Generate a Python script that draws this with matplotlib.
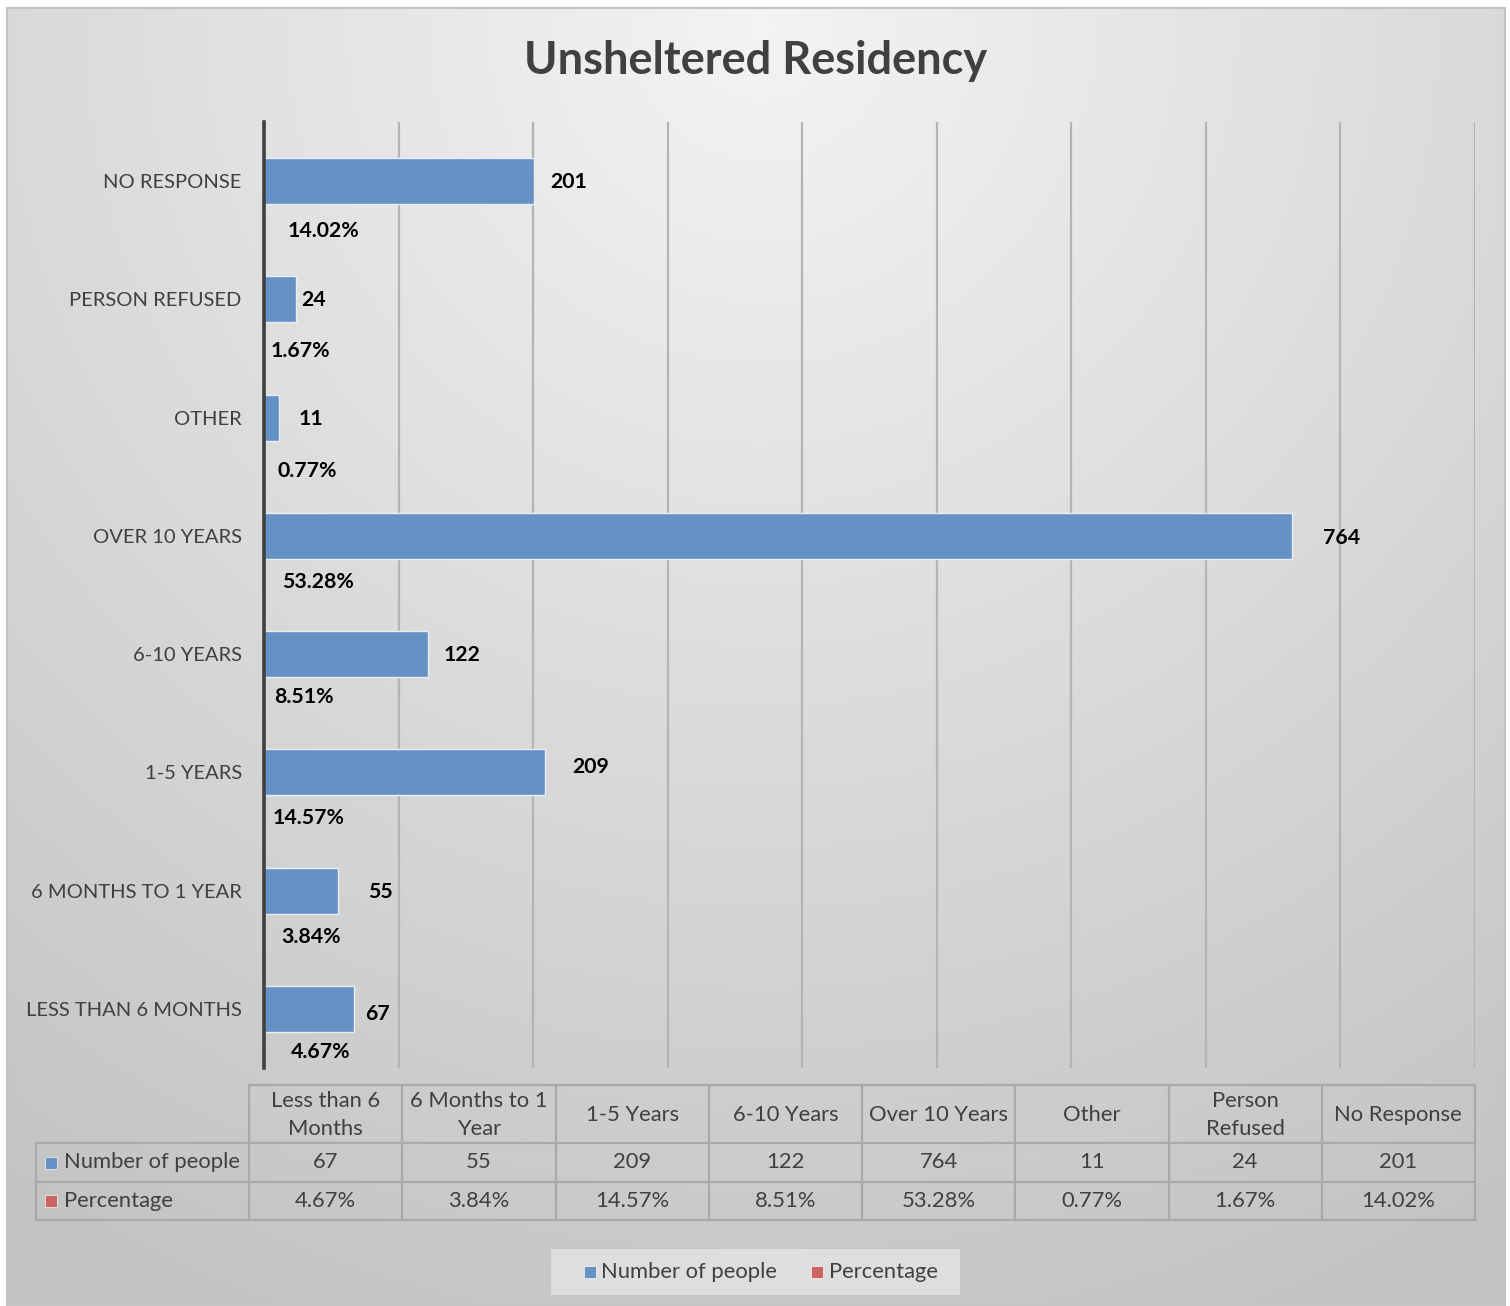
import numpy as np
import matplotlib
matplotlib.use("Agg")
import matplotlib.pyplot as plt
from matplotlib.patches import Rectangle

plt.rcParams['font.family'] = ['Lato', 'DejaVu Sans']

# ---------------- data ----------------
title = "Unsheltered Residency"
categories = ["Less than 6\nMonths", "6 Months to 1\nYear", "1-5 Years", "6-10 Years",
              "Over 10 Years", "Other", "Person\nRefused", "No Response"]
axis_labels = ["LESS THAN 6 MONTHS", "6 MONTHS TO 1 YEAR", "1-5 YEARS", "6-10 YEARS",
               "OVER 10 YEARS", "OTHER", "PERSON REFUSED", "NO RESPONSE"]
counts = [67, 55, 209, 122, 764, 11, 24, 201]
pct_labels = ["4.67%", "3.84%", "14.57%", "8.51%", "53.28%", "0.77%", "1.67%", "14.02%"]
series_names = ["Number of people", "Percentage"]
x_max = 900
x_step = 100

# label nudges (pixels, +dy = downward) - manual placement as in the reference
count_dx = [11, 30, 27, 15, 31, 20, 5, 16]
count_dy = [5, 1, -5, 1, 2, 1, 1, 1]
pct_dx = [27, 17, 9, 10, 18, 14, 7, 24]
pct_dy = [43, 46, 46, 43, 46, 53, 52, 50]

BLUE = "#6691c5"
RED = "#cd6462"
TXT = "#404040"

W, H = 1510, 1306
fig = plt.figure(figsize=(W / 100, H / 100), dpi=100)
fig.patch.set_facecolor("white")

# ---------------- background (gradient) ----------------
bg = fig.add_axes([0, 0, 1, 1], zorder=-10)
bg.axis("off")
yy, xx = np.mgrid[0:H:2, 0:W:2]
d = np.sqrt((xx - 760) ** 2 + (yy - 20) ** 2)
val = 0.955 - 0.19 * np.clip(d / 1400.0, 0, 1)
img = np.dstack([val, val, val])
bg.imshow(img, extent=[7, 1505, 1305, 8], aspect="auto", interpolation="bilinear", zorder=0)
bg.add_patch(Rectangle((6.5, 8), 1498.5, 1297.5, fill=False, edgecolor="#c4c4c4", lw=1.5, zorder=1))
bg.set_xlim(0, W)
bg.set_ylim(H, 0)

# title
bg.text(756, 61, title, ha="center", va="center", fontsize=32.5, fontweight="bold", color=TXT, zorder=3)

# ---------------- bar chart ----------------
L, R, T, B = 264, 1475, 122, 1068
ax = fig.add_axes([L / W, 1 - B / H, (R - L) / W, (B - T) / H])
ax.set_facecolor("none")
y = np.arange(len(counts))
ax.barh(y, counts, height=0.39, color=BLUE, edgecolor="#e8eef6", linewidth=1.0, zorder=3)
ax.set_xlim(0, x_max)
ax.set_ylim(-0.5, len(counts) - 0.5)
ax.set_xticks(np.arange(0, x_max + 1, x_step))
ax.set_xticklabels([])
ax.tick_params(axis="x", length=0)
ax.grid(axis="x", color="#b4b4b4", linewidth=1.6, zorder=0)
ax.set_yticks(y)
ax.set_yticklabels(axis_labels, fontsize=14.5, color=TXT)
ax.tick_params(axis="y", length=0, pad=16)
for s in ["top", "right", "bottom"]:
    ax.spines[s].set_visible(False)
ax.spines["left"].set_color("#404040")
ax.spines["left"].set_linewidth(2.6)
ax.spines["left"].set_zorder(5)

for i, (c, p) in enumerate(zip(counts, pct_labels)):
    ax.annotate(str(c), xy=(c, i), xytext=(count_dx[i] * 0.72, -count_dy[i] * 0.72),
                textcoords="offset points", ha="left", va="center",
                fontsize=15.3, fontweight="bold", color="black", zorder=6)
    ax.annotate(p, xy=(0, i), xytext=(pct_dx[i] * 0.72, -pct_dy[i] * 0.72),
                textcoords="offset points", ha="left", va="center",
                fontsize=15.3, fontweight="bold", color="black", zorder=6)

# ---------------- data table ----------------
tb = fig.add_axes([0, 0, 1, 1], zorder=2)
tb.set_xlim(0, W)
tb.set_ylim(H, 0)
tb.axis("off")
tb.patch.set_alpha(0)
col0, col_w = 249.0, (1475.0 - 249.0) / len(categories)
lab_x0 = 36
rows_y = [1085, 1143, 1182, 1220]
lc = "#a9a9a9"
lw = 1.6
tb.plot([col0, 1475], [rows_y[0], rows_y[0]], color=lc, lw=lw)
for yv in rows_y[1:]:
    tb.plot([lab_x0, 1475], [yv, yv], color=lc, lw=lw)
for j in range(len(categories) + 1):
    xv = col0 + j * col_w
    tb.plot([xv, xv], [rows_y[0], rows_y[3]], color=lc, lw=lw)
tb.plot([lab_x0, lab_x0], [rows_y[1], rows_y[3]], color=lc, lw=lw)

row_vals = [[str(c) for c in counts], pct_labels]
for j, cat in enumerate(categories):
    cx = col0 + (j + 0.5) * col_w
    tb.text(cx, (rows_y[0] + rows_y[1]) / 2 + 1, cat, ha="center", va="center",
            fontsize=15.8, color=TXT, linespacing=1.55)
    for r in range(2):
        tb.text(cx, (rows_y[r + 1] + rows_y[r + 2]) / 2, row_vals[r][j], ha="center",
                va="center", fontsize=15.8, color=TXT)
for r, (nm, colr) in enumerate(zip(series_names, [BLUE, RED])):
    cy = (rows_y[r + 1] + rows_y[r + 2]) / 2
    tb.add_patch(Rectangle((45, cy - 6), 12, 12, facecolor=colr, edgecolor="#e8e8e8", lw=0.6))
    tb.text(64, cy, nm, ha="left", va="center", fontsize=15.8, color=TXT)

# ---------------- legend ----------------
tb.add_patch(Rectangle((551, 1249), 409, 46, facecolor="#dedede", edgecolor="none", zorder=1))
tb.add_patch(Rectangle((584, 1266), 12, 12, facecolor=BLUE, edgecolor="#eeeeee", lw=0.6, zorder=2))
tb.text(601, 1272, series_names[0], ha="left", va="center", fontsize=15.8, color=TXT, zorder=2)
tb.add_patch(Rectangle((811, 1266), 12, 12, facecolor=RED, edgecolor="#eeeeee", lw=0.6, zorder=2))
tb.text(829, 1272, series_names[1], ha="left", va="center", fontsize=15.8, color=TXT, zorder=2)

fig.savefig("out.png", dpi=100)
